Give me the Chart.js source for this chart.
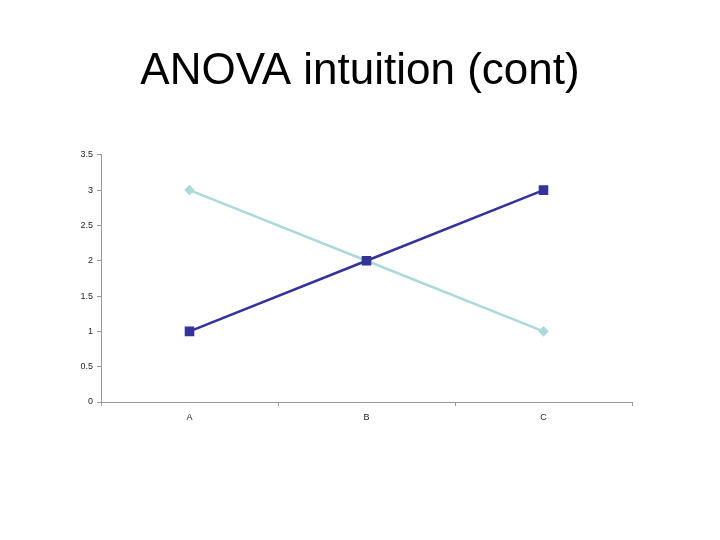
<!DOCTYPE html>
<html>
<head>
<meta charset="utf-8">
<script src="https://cdn.jsdelivr.net/npm/chart.js@4"></script>
<style>
  html,body{margin:0;padding:0;background:#fff;}
  #wrap{width:720px;height:540px;}
</style>
</head>
<body>
<div id="wrap"><canvas id="anova" width="720" height="540"></canvas></div>
<script>
const categories=["A","B","C"];
const rising=[1,2,3];
const falling=[3,2,1];
const yTicks=[0,0.5,1,1.5,2,2.5,3,3.5];

new Chart(anova,{
  type:"line",
  data:{
    labels:categories,
    datasets:[{
      label:"Series 2",
      data:rising,
      borderColor:"#333399",
      backgroundColor:"#333399",
      borderWidth:2.5,
      pointStyle:"rect",
      pointRadius:5,
      pointHoverRadius:5,
      tension:0
    },{
      label:"Series 1",
      data:falling,
      borderColor:"#abd9dc",
      backgroundColor:"#abd9dc",
      borderWidth:2.5,
      pointStyle:"rectRot",
      pointRadius:3.5,
      pointHoverRadius:3.5,
      tension:0
    }]
  },
  options:{
    responsive:false,
    animation:false,
    layout:{padding:{left:60,right:60,top:0,bottom:100}},
    plugins:{
      legend:{display:false},
      tooltip:{enabled:false},
      title:{
        display:true,
        text:"ANOVA intuition (cont)",
        color:"#000",
        font:{family:"Liberation Sans, Arial, sans-serif",size:44,weight:"normal"},
        padding:{top:45,bottom:57}
      }
    },
    scales:{
      x:{
        offset:true,
        grid:{offset:true,drawOnChartArea:false,color:"#999",tickLength:4},
        border:{color:"#999"},
        ticks:{color:"#222",font:{family:"Liberation Sans, Arial, sans-serif",size:9},padding:6},
        afterFit:s=>{s.height=38}
      },
      y:{
        min:0,max:3.5,
        afterBuildTicks:s=>{s.ticks=yTicks.map(v=>({value:v}))},
        grid:{drawOnChartArea:false,color:"#999",tickLength:4},
        border:{color:"#999"},
        ticks:{color:"#222",font:{family:"Liberation Sans, Arial, sans-serif",size:9},padding:4,callback:v=>String(v)},
        afterFit:s=>{s.width=41}
      },
      // empty right-hand axis, only there to keep the plot off the right edge
      spacer:{
        position:"right",
        min:0,max:3.5,
        grid:{display:false},
        border:{display:false},
        ticks:{display:false},
        afterFit:s=>{s.width=28}
      }
    }
  }
});
</script>
</body>
</html>
